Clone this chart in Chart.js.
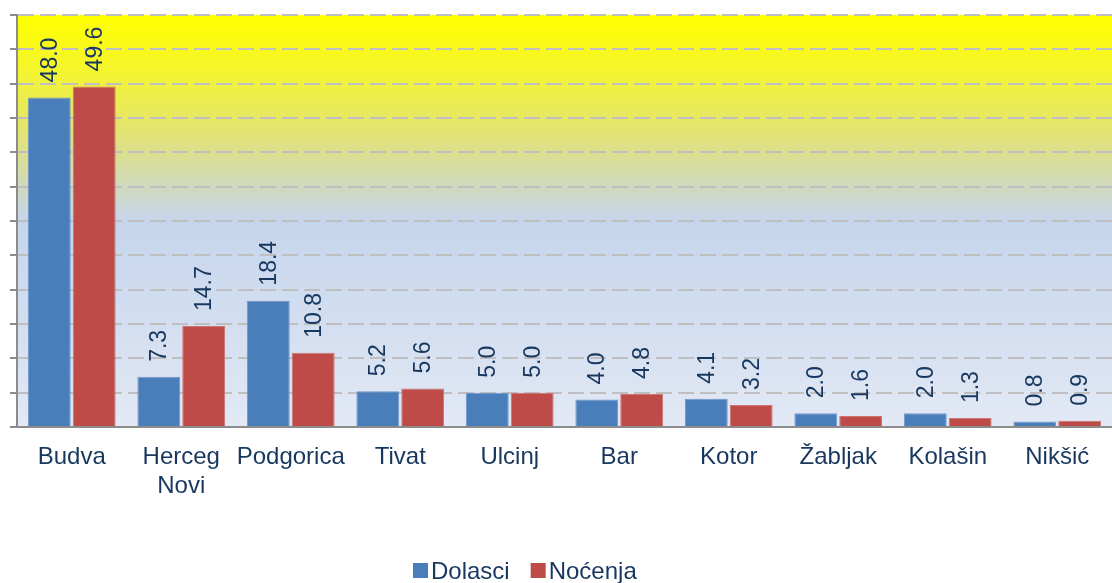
<!DOCTYPE html>
<html>
<head>
<meta charset="utf-8">
<script src="https://cdn.jsdelivr.net/npm/chart.js@4/dist/chart.umd.min.js"></script>
<style>
  body { margin: 0; background: #fff; }
  canvas { display: block; }
</style>
</head>
<body>
<canvas id="myChart" width="1112" height="583"></canvas>
<script>
const gradovi = ['Budva', ['Herceg', 'Novi'], 'Podgorica', 'Tivat', 'Ulcinj', 'Bar', 'Kotor', 'Žabljak', 'Kolašin', 'Nikšić']
const dolasci = [48.0, 7.3, 18.4, 5.2, 5.0, 4.0, 4.1, 2.0, 2.0, 0.8]
const nocenja = [49.6, 14.7, 10.8, 5.6, 5.0, 4.8, 3.2, 1.6, 1.3, 0.9]
const yMax = 60
const yStep = 5

const font = "Arial, 'Liberation Sans', sans-serif"
const tekst = '#17375E'

// pozadina: zuto gore, svijetlo plavo dolje
const pozadina = {
    id: 'pozadina',
    beforeDraw(chart) {
        const {ctx, chartArea: a} = chart
        const g = ctx.createLinearGradient(0, a.top, 0, a.bottom)
        g.addColorStop(0, '#FFFF00')
        g.addColorStop(0.12, '#F6F628')
        g.addColorStop(0.28, '#E3E470')
        g.addColorStop(0.40, '#D2DAB4')
        g.addColorStop(0.50, '#C6D5EC')
        g.addColorStop(0.75, '#D3DEF0')
        g.addColorStop(1, '#E3E9F5')
        ctx.save()
        ctx.fillStyle = g
        ctx.fillRect(a.left, a.top, a.right - a.left, a.bottom - a.top)
        ctx.restore()
    }
}

// vrijednosti iznad stubica, rotirane
const oznake = {
    id: 'oznake',
    afterDatasetsDraw(chart) {
        const ctx = chart.ctx
        ctx.save()
        ctx.fillStyle = tekst
        ctx.font = '23px ' + font
        ctx.textAlign = 'left'
        ctx.textBaseline = 'middle'
        chart.data.datasets.forEach((ds, i) => {
            chart.getDatasetMeta(i).data.forEach((bar, j) => {
                ctx.save()
                ctx.translate(bar.x + 1, bar.y - 15)
                ctx.rotate(-Math.PI / 2)
                ctx.fillText(ds.data[j].toFixed(1), 0, 0)
                ctx.restore()
            })
        })
        ctx.restore()
    }
}

// legenda dolje
const legenda = {
    id: 'legenda',
    afterDraw(chart) {
        const ctx = chart.ctx
        ctx.save()
        ctx.font = '24px ' + font
        ctx.textBaseline = 'middle'
        let x = 413
        const y = 572
        chart.data.datasets.forEach(ds => {
            ctx.fillStyle = ds.backgroundColor
            ctx.fillRect(x, y - 9, 15, 15)
            ctx.fillStyle = tekst
            ctx.fillText(ds.label, x + 18, y)
            x += 18 + ctx.measureText(ds.label).width + 21
        })
        ctx.restore()
    }
}

new Chart(document.getElementById('myChart'), {
    type: 'bar',
    data: {
        labels: gradovi,
        datasets: [
            {
                label: 'Dolasci',
                data: dolasci,
                backgroundColor: '#4A7EBB',
                borderColor: '#7098C9',
                borderWidth: 1,
                categoryPercentage: 0.82,
                barPercentage: 0.955
            },
            {
                label: 'Noćenja',
                data: nocenja,
                backgroundColor: '#BE4B48',
                borderColor: '#CC7471',
                borderWidth: 1,
                categoryPercentage: 0.82,
                barPercentage: 0.955
            }
        ]
    },
    options: {
        responsive: false,
        animation: false,
        layout: { padding: { top: 15, right: 0, left: 0, bottom: 0 } },
        plugins: {
            legend: { display: false },
            tooltip: { enabled: false }
        },
        scales: {
            x: {
                grid: { display: false },
                border: { display: true, color: '#8C8C8C', width: 2 },
                ticks: {
                    color: tekst,
                    font: { size: 24, family: font },
                    padding: 8,
                    maxRotation: 0,
                    autoSkip: false
                },
                afterFit(scale) { scale.height = 156 }
            },
            y: {
                min: 0,
                max: yMax,
                ticks: { display: false, stepSize: yStep },
                grid: {
                    color: '#BFBFBF',
                    lineWidth: 2,
                    drawTicks: true,
                    tickLength: 7,
                    tickColor: '#8C8C8C',
                    tickWidth: 2,
                    tickBorderDash: []
                },
                border: { display: true, color: '#8C8C8C', width: 2, dash: [16, 6] },
                afterFit(scale) { scale.width = 17 }
            }
        }
    },
    plugins: [pozadina, oznake, legenda]
})
</script>
</body>
</html>
